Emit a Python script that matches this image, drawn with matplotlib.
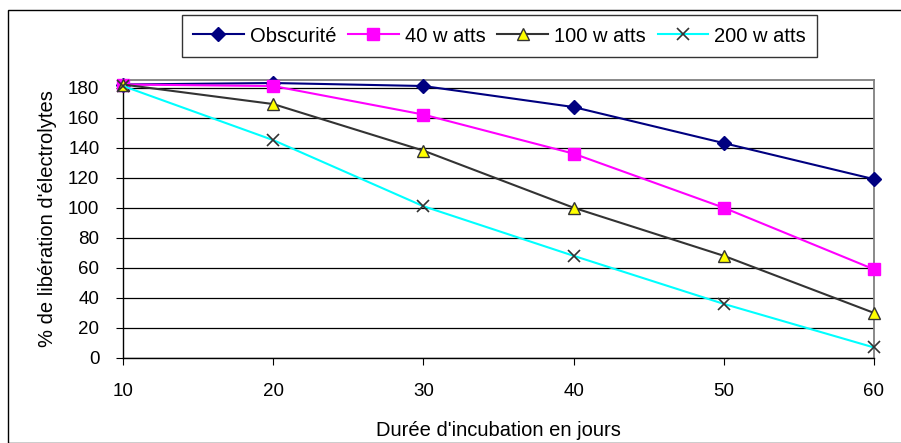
import matplotlib.pyplot as plt
from matplotlib.patches import Rectangle

plt.rcParams['font.family'] = ['Liberation Sans', 'DejaVu Sans']

jours = [10, 20, 30, 40, 50, 60]
obscurite = [182, 183, 181, 167, 143, 119]
w40 = [182, 181, 162, 136, 100, 59]
w100 = [182, 169, 138, 100, 68, 30]
w200 = [181, 145, 101, 68, 36, 7]
yticks = list(range(0, 181, 20))

W, H = 901, 443
fig = plt.figure(figsize=(W / 100, H / 100), dpi=100)
# cadre extérieur (coupé à droite et en bas)
fig.patches.append(Rectangle((8 / W, 0), 1.2, 1 - 10 / H, transform=fig.transFigure,
                             fill=False, edgecolor='black', lw=1.0))

ax = fig.add_axes([123 / W, 1 - 358 / H, (874 - 123) / W, (358 - 80) / H])
ax.plot(jours, obscurite, color='#000080', marker='D', ms=7, lw=1.5,
        label='Obscurité', clip_on=False, zorder=5)
ax.plot(jours, w40, color='#ff00ff', marker='s', ms=8, lw=1.5,
        label='40 w atts', clip_on=False, zorder=5)
ax.plot(jours, w100, color='#333333', marker='^', ms=8, mfc='#ffff00',
        mec='#333333', lw=1.5, label='100 w atts', clip_on=False, zorder=5)
ax.plot(jours, w200, color='#00ffff', marker='x', ms=9, mec='#333333', mew=1.2,
        lw=1.5, label='200 w atts', clip_on=False, zorder=5)

ax.set_xlim(10, 60)
ax.set_ylim(0, 185)
ax.set_yticks(yticks)
ax.set_xticks(jours)
ax.yaxis.grid(True, color='black', lw=0.9)
ax.set_axisbelow(True)
for s in ['top', 'right']:
    ax.spines[s].set_color('#808080')
    ax.spines[s].set_linewidth(1.3)
for s in ['left', 'bottom']:
    ax.spines[s].set_color('black')
    ax.spines[s].set_linewidth(1.0)
ax.tick_params(axis='y', direction='out', length=5, labelsize=13.5, pad=12)
ax.tick_params(axis='x', direction='out', length=5, labelsize=13.5, pad=13)
ax.set_ylabel("% de libération d'électrolytes", fontsize=14.5, labelpad=8)
ax.set_xlabel("Durée d'incubation en jours", fontsize=14.5, labelpad=15)

leg = fig.legend(loc='center', bbox_to_anchor=(499.5 / W, 1 - 36 / H), ncol=4,
                 frameon=True, fancybox=False, edgecolor='black', fontsize=14.5,
                 handlelength=2.5, columnspacing=0.6, handletextpad=0.3,
                 borderpad=0.55)
leg.get_frame().set_linewidth(1.0)

fig.savefig('out.png', dpi=100)
